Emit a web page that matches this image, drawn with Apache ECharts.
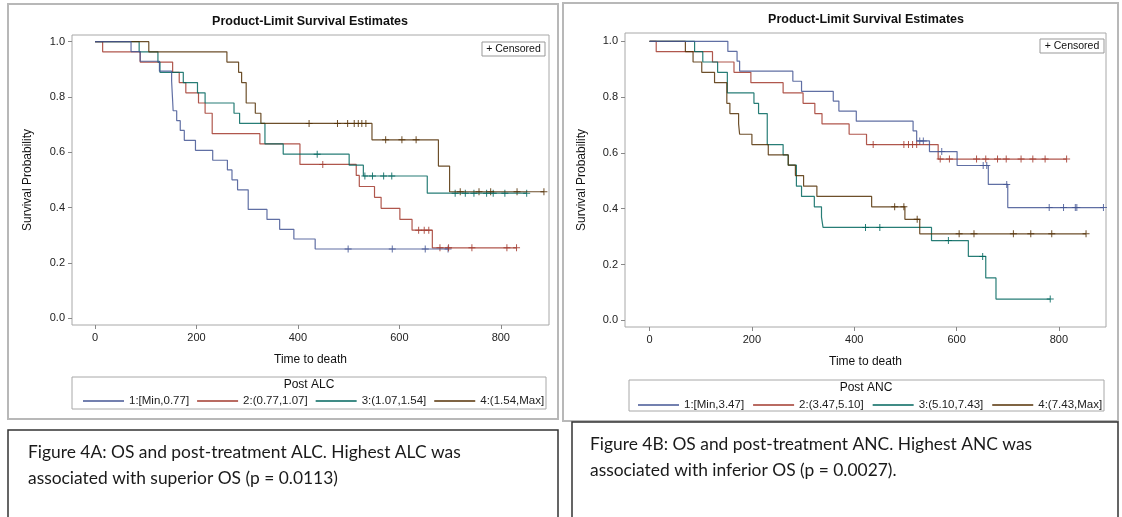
<!DOCTYPE html>
<html><head><meta charset="utf-8">
<script src="https://cdn.jsdelivr.net/npm/echarts@6/dist/echarts.min.js"></script>
<style>html,body{margin:0;padding:0;background:#fff}#c{width:1122px;height:517px}</style>
</head><body><div id="c"></div>
<script>
// ---------- data ----------
const timeTicks = [0, 200, 400, 600, 800];
const probTicks = [0, 0.2, 0.4, 0.6, 0.8, 1.0];
const chartTitle = 'Product-Limit Survival Estimates';
const alcLabels = ['1:[Min,0.77]', '2:(0.77,1.07]', '3:(1.07,1.54]', '4:(1.54,Max]'];
const ancLabels = ['1:[Min,3.47]', '2:(3.47,5.10]', '3:(5.10,7.43]', '4:(7.43,Max]'];
const captionA = 'Figure 4A: OS and post-treatment ALC. Highest ALC was\nassociated with superior OS (p = 0.0113)';
const captionB = 'Figure 4B: OS and post-treatment ANC. Highest ANC was\nassociated with inferior OS (p = 0.0027).';

// Kaplan-Meier curves: [time, survival after event]
const alc1 = [[0,1],[71,0.964],[89,0.929],[127,0.893],[151,0.857],[152,0.821],[153,0.786],[154,0.75],[161,0.714],[168,0.679],[176,0.643],[198,0.607],[232,0.571],[261,0.536],[270,0.5],[281,0.464],[302,0.393],[339,0.357],[364,0.321],[392,0.286],[434,0.25]];
const alc1Cens = [499, 586, 651, 696];
const alc2 = [[0,1],[15,0.963],[89,0.926],[153,0.889],[166,0.852],[179,0.815],[204,0.778],[217,0.741],[231,0.667],[325,0.63],[404,0.556],[515,0.516],[521,0.476],[551,0.437],[564,0.397],[601,0.357],[625,0.318],[665,0.254]];
const alc2Cens = [449, 638, 649, 658, 680, 697, 743, 812, 831];
const alc3 = [[0,1],[87,0.963],[124,0.926],[128,0.889],[174,0.852],[202,0.815],[217,0.778],[274,0.741],[285,0.704],[335,0.63],[371,0.593],[501,0.553],[529,0.514],[655,0.452]];
const alc3Cens = [438, 532, 547, 569, 585, 710, 730, 747, 772, 785, 808, 851];
const alc4 = [[0,1],[106,0.963],[260,0.926],[283,0.889],[289,0.852],[298,0.778],[316,0.741],[327,0.704],[546,0.645],[677,0.55],[699,0.457]];
const alc4Cens = [422, 478, 498, 511, 519, 526, 534, 573, 605, 633, 720, 757, 780, 832, 885];

const anc1 = [[0,1],[153,0.964],[171,0.929],[176,0.893],[280,0.857],[297,0.821],[359,0.786],[370,0.75],[404,0.714],[515,0.679],[522,0.643],[547,0.605],[601,0.555],[662,0.487],[700,0.404]];
const anc1Cens = [528, 535, 571, 652, 659, 698, 781, 809, 832, 835, 887];
const anc2 = [[0,1],[13,0.963],[123,0.926],[165,0.889],[198,0.852],[261,0.815],[300,0.778],[323,0.741],[337,0.704],[390,0.667],[424,0.63],[564,0.578]];
const anc2Cens = [437, 497, 506, 514, 522, 568, 586, 639, 657, 680, 697, 726, 749, 773, 815];
const anc3 = [[0,1],[88,0.963],[104,0.926],[133,0.889],[152,0.815],[204,0.778],[213,0.741],[230,0.63],[261,0.593],[271,0.556],[287,0.481],[297,0.444],[322,0.407],[336,0.37],[339,0.333],[551,0.286],[623,0.229],[657,0.152],[677,0.076]];
const anc3Cens = [422, 450, 584, 651, 783];
const anc4 = [[0,1],[70,0.963],[85,0.926],[102,0.889],[127,0.852],[151,0.778],[157,0.741],[174,0.704],[176,0.667],[200,0.63],[232,0.593],[271,0.556],[285,0.519],[301,0.481],[327,0.444],[434,0.407],[499,0.362],[528,0.31]];
const anc4Cens = [479, 497, 523, 605, 634, 711, 745, 786, 853];

const colors = ['#445694', '#A23A2E', '#01665E', '#543005'];

// ---------- build ----------
function stepAt(curve, t) {
  let s = curve[0][1];
  for (const p of curve) { if (p[0] <= t) s = p[1]; }
  return s;
}
function withEnd(curve, cens) {
  const end = Math.max(...cens);
  const last = curve[curve.length - 1];
  return end > last[0] ? curve.concat([[end, last[1]]]) : curve;
}
const plus = 'path://M3,0h1v7h-1z M0,3h7v1h-7z';
const series = [];
function addGroup(curves, cens, names, idx) {
  curves.forEach((c, i) => {
    series.push({
      type: 'line', name: names[i], step: 'end', showSymbol: false, symbol: 'none',
      xAxisIndex: idx, yAxisIndex: idx, data: withEnd(c, cens[i]),
      lineStyle: { color: colors[i], width: 1.2, opacity: 0.85 }, itemStyle: { color: colors[i] },
      silent: true, z: 3 + (i === 0 ? 1 : 0)
    });
  });
  curves.forEach((c, i) => {
    series.push({
      type: 'scatter', name: names[i] + ' censored', xAxisIndex: idx, yAxisIndex: idx,
      symbol: plus, symbolSize: 7, silent: true,
      itemStyle: { color: colors[i], opacity: 0.85 },
      data: cens[i].map(t => [t, stepAt(c, t)])
    });
  });
}
addGroup([alc1, alc2, alc3, alc4], [alc1Cens, alc2Cens, alc3Cens, alc4Cens], alcLabels, 0);
addGroup([anc1, anc2, anc3, anc4], [anc1Cens, anc2Cens, anc3Cens, anc4Cens], ancLabels, 1);

const FONT = '"Liberation Sans", Arial, sans-serif';
function xAx(grid, min, max) {
  return {
    type: 'value', gridIndex: grid, min: min, max: max, position: 'bottom',
    name: 'Time to death', nameLocation: 'middle', nameGap: 29,
    nameTextStyle: { fontFamily: FONT, fontSize: 12, color: '#111' },
    axisLine: { show: false, onZero: false },
    axisTick: { show: true, customValues: timeTicks, length: 4, lineStyle: { color: '#888' } },
    axisLabel: { customValues: timeTicks, fontFamily: FONT, fontSize: 11, color: '#222', margin: 7 },
    splitLine: { show: false }
  };
}
function yAx(grid, min, max, gap) {
  return {
    type: 'value', gridIndex: grid, min: min, max: max, position: 'left',
    name: 'Survival Probability', nameLocation: 'middle', nameGap: gap, nameRotate: 90,
    nameTextStyle: { fontFamily: FONT, fontSize: 12, color: '#111' },
    axisLine: { show: false, onZero: false },
    axisTick: { show: true, customValues: probTicks, length: 4, lineStyle: { color: '#888' } },
    axisLabel: { customValues: probTicks, formatter: v => v.toFixed(1), fontFamily: FONT, fontSize: 11, color: '#222', margin: 7 },
    splitLine: { show: false }
  };
}
function legend(names, left, top, gap) {
  return {
    data: names, left: left, top: top, orient: 'horizontal', icon: 'rect',
    itemWidth: 41, itemHeight: 1.5, itemGap: gap, selectedMode: false,
    textStyle: { fontFamily: FONT, fontSize: 11.5, color: '#222' }
  };
}
function txt(x, y, text, font, align) {
  return { type: 'text', x: x, y: y, silent: true, z: 10,
    style: { text: text, font: font, fill: '#111', align: align || 'center', verticalAlign: 'middle' } };
}
function box(x, y, w, h, stroke, lw) {
  return { type: 'rect', silent: true, z: 9, shape: { x: x, y: y, width: w, height: h },
    style: { fill: 'none', stroke: stroke, lineWidth: lw } };
}
const CAPFONT = '17.4px Lato, "Open Sans", sans-serif';

const option = {
  animation: false,
  backgroundColor: '#fff',
  grid: [
    { left: 72, top: 35, width: 477, height: 290, show: true, borderColor: '#a8a8a8', borderWidth: 1, containLabel: false },
    { left: 625, top: 33, width: 481, height: 294, show: true, borderColor: '#a8a8a8', borderWidth: 1, containLabel: false }
  ],
  xAxis: [xAx(0, -45.4, 895), xAx(1, -48, 892)],
  yAxis: [yAx(0, -0.025, 1.024, 38), yAx(1, -0.024, 1.03, 37)],
  legend: [legend(alcLabels, 78, 390, 8), legend(ancLabels, 633, 394, 9)],
  series: series,
  graphic: [
    box(8, 4, 550, 415, '#b8b8b8', 2),
    box(563, 3, 555, 418, '#b8b8b8', 2),
    txt(310, 22, chartTitle, 'bold 12.5px ' + FONT),
    txt(866, 20, chartTitle, 'bold 12.5px ' + FONT),
    { type: 'rect', z: 9, silent: true, shape: { x: 482, y: 42, width: 63, height: 14 }, style: { fill: '#fff', stroke: '#999', lineWidth: 1 } },
    txt(513.5, 49, '+ Censored', '10.5px ' + FONT),
    { type: 'rect', z: 9, silent: true, shape: { x: 1040, y: 39, width: 64, height: 14 }, style: { fill: '#fff', stroke: '#999', lineWidth: 1 } },
    txt(1072, 46, '+ Censored', '10.5px ' + FONT),
    box(72, 377, 474, 32, '#a8a8a8', 1),
    txt(309, 385, 'Post ALC', '12px ' + FONT),
    box(629, 380, 475, 31, '#a8a8a8', 1),
    txt(866, 388, 'Post ANC', '12px ' + FONT),
    box(8, 430, 550, 95, '#333', 1.5),
    { type: 'text', x: 28, y: 439, silent: true, z: 10, style: { text: captionA, font: CAPFONT, fill: '#1a1a1a', align: 'left', verticalAlign: 'top', lineHeight: 26 } },
    box(572, 422, 546, 103, '#333', 1.5),
    { type: 'text', x: 590, y: 431, silent: true, z: 10, style: { text: captionB, font: CAPFONT, fill: '#1a1a1a', align: 'left', verticalAlign: 'top', lineHeight: 26 } }
  ]
};
const chart = echarts.init(document.getElementById('c'), null, { renderer: 'canvas' });
chart.setOption(option);
</script>
</body></html>
